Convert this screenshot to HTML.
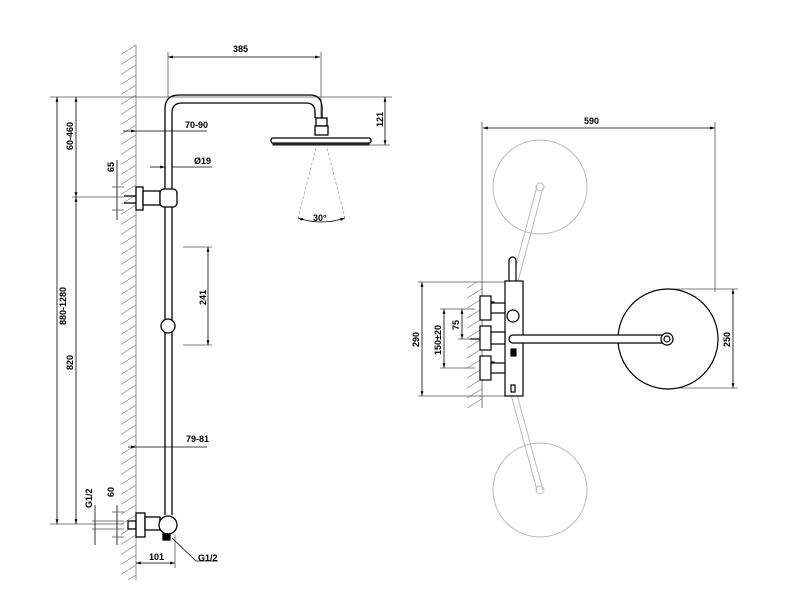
<!DOCTYPE html><html><head><style>body{margin:0;background:#fff}svg{display:block}text{font-family:"Liberation Sans",sans-serif;font-size:9px;font-weight:bold;fill:#000}</style></head><body>
<svg width="800" height="600" viewBox="0 0 800 600" xmlns="http://www.w3.org/2000/svg">
<defs><marker id="a" viewBox="0 0 10 10" refX="10" refY="5" markerWidth="6" markerHeight="6" orient="auto-start-reverse"><path d="M0,2L10,5L0,8z" fill="#000"/></marker>
<pattern id="h" width="16" height="10" patternUnits="userSpaceOnUse"><path d="M0,10L16,0" stroke="#999" stroke-width="0.8"/></pattern></defs>
<g stroke="#000" stroke-width="0.8" fill="none">
<!-- wall left -->
<rect x="121" y="45" width="15" height="535" fill="url(#h)" stroke="none"/>
<line x1="136" y1="45" x2="136" y2="580" stroke="#777"/>
<!-- ref lines -->
<line x1="50" y1="97" x2="392" y2="97" stroke="#555"/>
<line x1="50" y1="524" x2="124" y2="524" stroke="#555"/>
<line x1="72" y1="197" x2="124" y2="197" stroke="#555"/>
<!-- dims left -->
<line x1="57" y1="97" x2="57" y2="524" marker-start="url(#a)" marker-end="url(#a)"/>
<line x1="76" y1="97" x2="76" y2="197" marker-start="url(#a)" marker-end="url(#a)"/>
<line x1="76" y1="197" x2="76" y2="524" marker-start="url(#a)" marker-end="url(#a)"/>
<line x1="168" y1="57" x2="320" y2="57" marker-start="url(#a)" marker-end="url(#a)"/>
<line x1="168" y1="52" x2="168" y2="97" stroke="#555"/><line x1="321" y1="52" x2="321" y2="118" stroke="#555"/>
<line x1="385" y1="97" x2="385" y2="145" marker-start="url(#a)" marker-end="url(#a)"/>
<line x1="360" y1="145" x2="390" y2="145" stroke="#555"/>
<line x1="123" y1="131" x2="136" y2="131" marker-end="url(#a)"/><line x1="136" y1="131" x2="207" y2="131"/>
<line x1="150" y1="167" x2="165" y2="167" marker-end="url(#a)"/><line x1="172" y1="167" x2="212" y2="167"/>
<line x1="117" y1="160" x2="117" y2="220"/><line x1="112" y1="187" x2="124" y2="187" stroke="#555"/><line x1="112" y1="210" x2="124" y2="210" stroke="#555"/>
<line x1="208" y1="247" x2="208" y2="345" marker-start="url(#a)" marker-end="url(#a)"/>
<line x1="183" y1="247" x2="212" y2="247" stroke="#555"/><line x1="183" y1="345" x2="212" y2="345" stroke="#555"/>
<line x1="128" y1="447" x2="136" y2="447" marker-end="url(#a)"/><line x1="136" y1="447" x2="207" y2="447"/>
<line x1="95" y1="505" x2="95" y2="545"/><line x1="117" y1="505" x2="117" y2="545"/>
<line x1="92" y1="521" x2="124" y2="521" stroke="#555"/><line x1="92" y1="529" x2="124" y2="529" stroke="#555"/>
<line x1="112" y1="512" x2="124" y2="512" stroke="#555"/><line x1="112" y1="537" x2="124" y2="537" stroke="#555"/>
<line x1="136" y1="563" x2="175" y2="563" marker-start="url(#a)" marker-end="url(#a)"/>
<line x1="175" y1="535" x2="175" y2="568" stroke="#555"/>
<line x1="172" y1="538" x2="196" y2="561"/><line x1="196" y1="561" x2="218" y2="561"/>
</g>
<!-- shower pipe -->
<g stroke="#000" stroke-width="1.3" fill="none">
<path d="M165,515V109Q165,95 179,95H310Q322,95 322,108V118"/>
<path d="M172,515V113Q172,103 182,103H306Q315,103 315,112V118"/>
<rect x="316" y="118" width="11" height="8" fill="#fff"/><rect x="315" y="126" width="13" height="9" fill="#fff"/>
<rect x="271" y="138" width="100" height="5" rx="2" fill="#fff"/>
<rect x="136" y="187" width="7" height="23" fill="#fff"/><rect x="143" y="191" width="17" height="14" fill="#fff"/>
<rect x="160" y="189" width="17" height="18" rx="4" fill="#fff"/>
<line x1="124" y1="196" x2="136" y2="196"/><line x1="124" y1="203" x2="136" y2="203"/>
<circle cx="168" cy="326" r="7" fill="#fff"/>
<rect x="128" y="521" width="8" height="8" fill="#fff"/><rect x="136" y="513" width="9" height="24" fill="#fff"/>
<rect x="145" y="517" width="15" height="13" fill="#fff"/>
<circle cx="168" cy="525" r="9" fill="#fff"/><rect x="163" y="534" width="7" height="6" fill="#000"/>
</g>
<g stroke="#888" stroke-width="0.6" stroke-dasharray="3,2" fill="none"><line x1="316" y1="148" x2="298" y2="218"/><line x1="327" y1="148" x2="345" y2="218"/></g>
<path d="M298,218Q321,226 345,218" stroke="#000" stroke-width="0.8" fill="none" marker-start="url(#a)" marker-end="url(#a)"/>
<g stroke="#111" stroke-width="1" fill="#333"><rect x="273" y="143" width="96" height="2"/></g>
<!-- right view -->
<g stroke="#bbb" stroke-width="1" fill="none">
<circle cx="540" cy="187" r="47"/><circle cx="540" cy="490" r="47"/>
<path d="M537,186L507,300M543,188L513,300"/><path d="M507,380L537,490M513,380L543,490"/>
<circle cx="540" cy="187" r="4"/><circle cx="540" cy="490" r="4"/>
</g>
<rect x="467" y="282" width="15" height="126" fill="url(#h)"/>
<g stroke="#000" stroke-width="0.8" fill="none">
<line x1="483" y1="128" x2="715" y2="128" marker-start="url(#a)" marker-end="url(#a)"/>
<line x1="482" y1="122" x2="482" y2="408" stroke="#555"/><line x1="715" y1="122" x2="715" y2="292" stroke="#555"/>
<line x1="422" y1="282" x2="422" y2="396" marker-start="url(#a)" marker-end="url(#a)"/>
<line x1="418" y1="282" x2="505" y2="282" stroke="#555"/><line x1="418" y1="396" x2="505" y2="396" stroke="#555"/>
<line x1="444" y1="309" x2="444" y2="368" marker-start="url(#a)" marker-end="url(#a)"/>
<line x1="462" y1="309" x2="462" y2="339" marker-start="url(#a)" marker-end="url(#a)"/>
<line x1="440" y1="309" x2="475" y2="309" stroke="#555"/><line x1="440" y1="368" x2="475" y2="368" stroke="#555"/><line x1="458" y1="339" x2="470" y2="339" stroke="#555"/>
<line x1="733" y1="289" x2="733" y2="388" marker-start="url(#a)" marker-end="url(#a)"/>
<line x1="668" y1="289" x2="738" y2="289" stroke="#555"/><line x1="668" y1="388" x2="738" y2="388" stroke="#555"/>
</g>
<g stroke="#000" stroke-width="1.2" fill="#fff">
<circle cx="668" cy="339" r="50"/>
<rect x="509" y="257" width="7" height="52" rx="3.5"/>
<rect x="505" y="281" width="18" height="115"/>
<rect x="486" y="302" width="8" height="10"/><rect x="480" y="296" width="11" height="24"/><rect x="491" y="303" width="14" height="10"/>
<rect x="480" y="326" width="11" height="24"/><rect x="491" y="332" width="14" height="12"/>
<rect x="486" y="362" width="8" height="10"/><rect x="480" y="356" width="11" height="24"/><rect x="491" y="363" width="14" height="10"/>
<line x1="470" y1="339" x2="480" y2="339"/>
<circle cx="513" cy="316" r="6"/>
<rect x="509" y="339" width="163" height="8" rx="4" transform="translate(0,-4)"/>
<circle cx="667" cy="339" r="6"/><circle cx="667" cy="339" r="3"/>
<rect x="511" y="349" width="5" height="7" fill="#000"/><rect x="511" y="385" width="4" height="7"/>
</g>
<!-- labels -->
<text x="233" y="52">385</text><text x="185" y="128">70-90</text><text x="194" y="164">Ø19</text>
<text x="186" y="442">79-81</text><text x="149" y="560">101</text><text x="198" y="561">G1/2</text>
<text x="584" y="124">590</text>
<g>
<text transform="translate(383,127) rotate(-90)">121</text>
<text transform="translate(73,150) rotate(-90)">60-460</text>
<text transform="translate(66,325) rotate(-90)">880-1280</text>
<text transform="translate(73,370) rotate(-90)">820</text>
<text transform="translate(114,172) rotate(-90)">65</text>
<text transform="translate(206,305) rotate(-90)">241</text>
<text transform="translate(92,508) rotate(-90)">G1/2</text>
<text transform="translate(114,497) rotate(-90)">60</text>
<text transform="translate(419,347) rotate(-90)">290</text>
<text transform="translate(441,355) rotate(-90)">150±20</text>
<text transform="translate(459,330) rotate(-90)">75</text>
<text transform="translate(730,347) rotate(-90)">250</text>
</g>
<text x="313" y="221">30°</text>
</svg></body></html>
